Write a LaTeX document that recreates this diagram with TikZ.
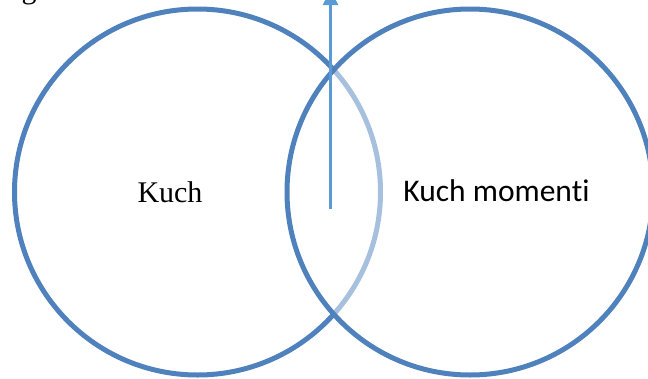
\documentclass[tikz,border=0pt]{standalone}
\usepackage{fontspec}
\setmainfont{Liberation Serif}
\newfontfamily\calibrifont[Ligatures=NoCommon]{Carlito}
\usetikzlibrary{arrows.meta, positioning}
\definecolor{cring}{HTML}{4F81BD}
\definecolor{carrow}{HTML}{5B9BD5}
\tikzset{
  every picture/.style={x=1pt, y=-1pt},
  ring/.style={circle, draw=cring, line width=5pt, minimum size=366pt, inner sep=0pt},
  veil/.style={fill=white, fill opacity=0.5},
  arrow/.style={-{Triangle[length=15pt, width=15pt]}, draw=carrow, line width=2.5pt},
  serifname/.style={font=\fontsize{30}{36}\selectfont, anchor=base},
  sansname/.style={font=\calibrifont\fontsize{31.5}{38}\selectfont, anchor=base},
}

\begin{document}
\begin{tikzpicture}
  \useasboundingbox (0,0) rectangle (648,378);
  \clip (0,0) rectangle (648,378);
  \node[serifname] (cut) at (29,-1.5) {g};
  \node[ring] (left) at (197.5,192) {};
  \node[ring, veil] (right) at (470,192) {};
  \coordinate (foot) at (330.5,209);
  \coordinate (tip) at (330.5,-10);
  \draw[arrow] (foot) -- (tip);
  \node[serifname] (kuch) at (170,202) {Kuch};
  \node[sansname] (moment) at (496.5,201) {Kuch momenti};
\end{tikzpicture}
\end{document}
